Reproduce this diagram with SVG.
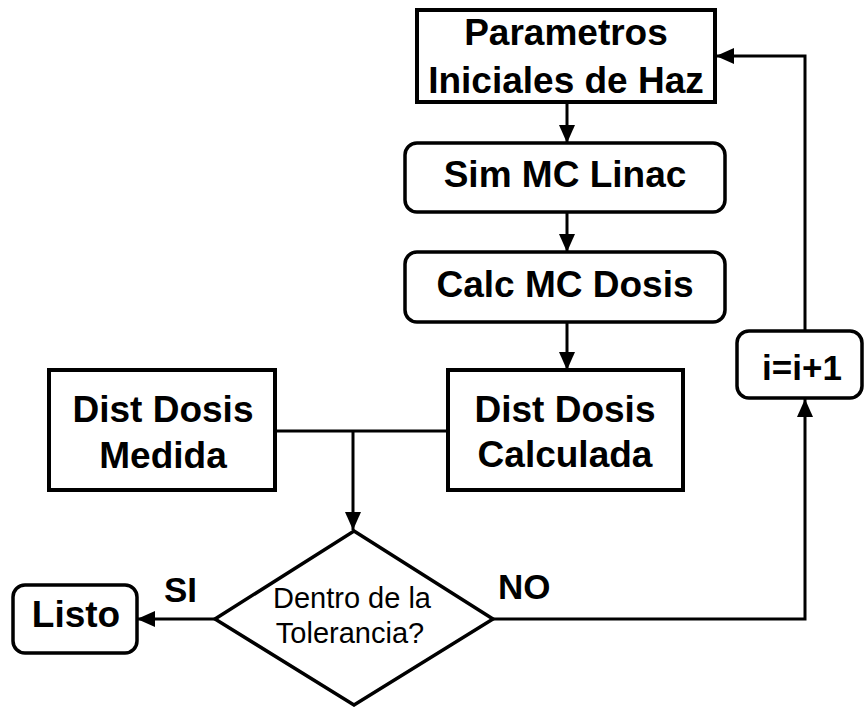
<svg xmlns="http://www.w3.org/2000/svg" width="866" height="707" viewBox="0 0 866 707">
  <style>
    .box { fill: #ffffff; stroke: #000000; stroke-width: 4; }
    .rbox { fill: #ffffff; stroke: #000000; stroke-width: 3.5; }
    .dec { fill: #ffffff; stroke: #000000; stroke-width: 3.5; stroke-linejoin: miter; }
    .lbl { font-family: "Liberation Sans", Arial, sans-serif; font-weight: bold; font-size: 37px; fill: #000000; text-anchor: middle; }
    .tag { font-family: "Liberation Sans", Arial, sans-serif; font-weight: bold; font-size: 35px; fill: #000000; }
    .q { font-family: "Liberation Sans", Arial, sans-serif; font-size: 29px; fill: #000000; text-anchor: middle; }
    .wire { fill: none; stroke: #000000; stroke-width: 3; }
  </style>
  <defs>
    <marker id="arrow" markerUnits="userSpaceOnUse" markerWidth="20" markerHeight="18" refX="18" refY="8" orient="auto">
      <path d="M0,0 L18,8 L0,16 Z" fill="#000000"/>
    </marker>
  </defs>

  <rect width="866" height="707" fill="#ffffff"/>

  <!-- connectors -->
  <g id="connectors">
    <line class="wire" x1="567" y1="102" x2="567" y2="143" marker-end="url(#arrow)"/>
    <line class="wire" x1="567" y1="212" x2="567" y2="252" marker-end="url(#arrow)"/>
    <line class="wire" x1="567" y1="322" x2="567" y2="370" marker-end="url(#arrow)"/>
    <line class="wire" x1="275" y1="431" x2="448" y2="431"/>
    <line class="wire" x1="353" y1="431" x2="353" y2="530" marker-end="url(#arrow)"/>
    <line class="wire" x1="215" y1="619" x2="137" y2="619" marker-end="url(#arrow)"/>
    <polyline class="wire" points="493,619 805,619 805,399" marker-end="url(#arrow)"/>
    <polyline class="wire" points="805,331 805,56 716,56" marker-end="url(#arrow)"/>
  </g>

  <g id="params">
    <rect class="box" x="417" y="10" width="298" height="92"/>
    <text class="lbl" x="566" y="45">Parametros</text>
    <text class="lbl" x="566" y="93">Iniciales de Haz</text>
  </g>

  <g id="sim-linac">
    <rect class="rbox" x="405" y="143" width="320" height="69" rx="12"/>
    <text class="lbl" x="565" y="187">Sim MC Linac</text>
  </g>

  <g id="calc-dosis">
    <rect class="rbox" x="405" y="252" width="320" height="70" rx="12"/>
    <text class="lbl" x="565" y="297">Calc MC Dosis</text>
  </g>

  <g id="dist-medida">
    <rect class="box" x="49" y="370" width="226" height="120"/>
    <text class="lbl" x="163" y="422">Dist Dosis</text>
    <text class="lbl" x="163" y="468">Medida</text>
  </g>

  <g id="dist-calculada">
    <rect class="box" x="448" y="370" width="235" height="120"/>
    <text class="lbl" x="565" y="422">Dist Dosis</text>
    <text class="lbl" x="565" y="467">Calculada</text>
  </g>

  <g id="tolerancia">
    <polygon class="dec" points="354,531 493,619 354,705 215,619"/>
    <text class="q" x="352" y="608">Dentro de la</text>
    <text class="q" x="350" y="643">Tolerancia?</text>
  </g>

  <g id="listo">
    <rect class="rbox" x="13" y="585" width="124" height="68" rx="12"/>
    <text class="lbl" x="76" y="627">Listo</text>
  </g>

  <g id="incremento">
    <rect class="rbox" x="737" y="331" width="125" height="67" rx="12"/>
    <text class="tag" x="802" y="380" text-anchor="middle">i=i+1</text>
  </g>

  <g id="branch-labels">
    <text class="tag" x="164" y="602">SI</text>
    <text class="tag" x="498" y="599">NO</text>
  </g>
</svg>
